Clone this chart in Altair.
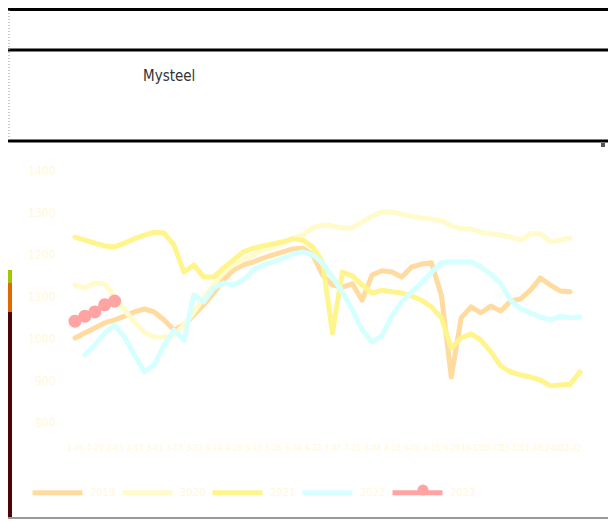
import altair as alt
import pandas as pd

weeks = ["01-06", "01-13", "01-20", "01-27", "02-03", "02-10", "02-17", "02-24",
         "03-03", "03-10", "03-17", "03-24", "03-31", "04-07", "04-14", "04-21",
         "04-28", "05-05", "05-12", "05-19", "05-26", "06-02", "06-09", "06-16",
         "06-23", "06-30", "07-07", "07-14", "07-21", "07-28", "08-04", "08-11",
         "08-18", "08-25", "09-01", "09-08", "09-15", "09-22", "09-29", "10-06",
         "10-13", "10-20", "10-27", "11-03", "11-10", "11-17", "11-24", "12-01",
         "12-08", "12-15", "12-22", "12-29"]

years = ["2019", "2020", "2021", "2022", "2023"]

s2019 = [1000, 1012, 1024, 1036, 1043, 1052, 1062, 1069, 1062, 1043,
         1019, 1031, 1055, 1079, 1107, 1138, 1162, 1174, 1181, 1190,
         1198, 1205, 1212, 1214, 1198, 1150, 1126, 1121, 1129, 1090,
         1150, 1160, 1157, 1145, 1169, 1176, 1179, 1102, 907, 1048,
         1074, 1060, 1076, 1064, 1088, 1093, 1114, 1143, 1126, 1112,
         1110, None]
s2020 = [1126, 1119, 1131, 1129, 1098, 1067, 1038, 1014, 1002, 1002,
         1007, 1031, 1062, 1095, 1126, 1157, 1174, 1186, 1198, 1210,
         1217, 1226, 1238, 1245, 1262, 1269, 1267, 1262, 1262, 1276,
         1290, 1300, 1300, 1295, 1290, 1286, 1283, 1279, 1267, 1260,
         1260, 1252, 1248, 1245, 1240, 1233, 1248, 1248, 1229, 1233,
         1238, None]
s2021 = [1240, 1233, 1226, 1219, 1217, 1226, 1236, 1245, 1252, 1250,
         1221, 1157, 1174, 1145, 1145, 1167, 1186, 1205, 1214, 1219,
         1224, 1229, 1236, 1233, 1217, 1181, 1012, 1157, 1148, 1126,
         1107, 1114, 1110, 1107, 1100, 1090, 1074, 1048, 976, 1000,
         1010, 995, 967, 933, 919, 912, 907, 900, 886, 888,
         890, 919]
s2022 = [None, 960, 983, 1012, 1031, 1002, 960, 919, 936, 983,
         1019, 995, 1102, 1086, 1119, 1131, 1126, 1138, 1162, 1174,
         1181, 1190, 1200, 1205, 1198, 1179, 1145, 1110, 1067, 1019,
         990, 1005, 1052, 1086, 1110, 1131, 1157, 1179, 1181, 1181,
         1181, 1169, 1152, 1129, 1090, 1069, 1060, 1050, 1043, 1052,
         1048, 1050]
s2023 = [1040, 1052, 1062, 1079, 1088]

series = [s2019, s2020, s2021, s2022, s2023]
colors = ["#FFDBA0", "#FFFBCB", "#FFF58C", "#D6FFFF", "#FFA3A3"]
y_ticks = [800, 900, 1000, 1100, 1200, 1300, 1400]

rows = []
for yr, vals in zip(years, series):
    for w, v in zip(weeks, vals):
        if v is not None:
            rows.append({"week": w, "year": yr, "value": v})
df = pd.DataFrame(rows)

faint = "#FFF8DA"

x_enc = alt.X("week:O", sort=weeks, title=None,
              scale=alt.Scale(type="point", padding=0),
              axis=alt.Axis(values=weeks[::2], labelAngle=0, labelFontSize=8,
                            labelFont="DejaVu Sans Condensed", labelColor=faint,
                            labelExpr="replace(datum.label, /^0/, '')",
                            labelPadding=22, domain=False, ticks=False, grid=False,
                            labelOverlap=False))
y_enc = alt.Y("value:Q", title=None,
              scale=alt.Scale(domain=[800, 1400], nice=False, zero=False),
              axis=alt.Axis(values=y_ticks, format="d", labelFontSize=12,
                            labelFont="DejaVu Sans Condensed", labelColor=faint,
                            labelPadding=20, domain=False, ticks=False, grid=False))

lines = alt.Chart(df).mark_line(strokeWidth=5, strokeJoin="round", strokeCap="round").encode(
    x=x_enc, y=y_enc,
    color=alt.Color("year:N", sort=years,
                    scale=alt.Scale(domain=years, range=colors),
                    legend=alt.Legend(title=None, orient="none", legendX=-45, legendY=295,
                                      direction="horizontal", columns=5,
                                      symbolType="stroke", symbolSize=2500,
                                      symbolStrokeWidth=5, labelFontSize=11,
                                      labelFont="DejaVu Sans Condensed",
                                      labelColor=faint, labelOffset=5,
                                      columnPadding=-4)),
)

pts = alt.Chart(df[df["year"] == "2023"]).mark_circle(size=170, opacity=1).encode(
    x=alt.X("week:O", sort=weeks), y="value:Q", color=alt.value("#FFA3A3")
)

one = alt.Data(values=[{"k": 1}])

def hrule(y, color="#000000", w=3):
    return alt.Chart(one).mark_rule(color=color, strokeWidth=w).encode(
        x=alt.value(-67), x2=alt.value(541), y=alt.value(y))

decor = [
    hrule(-160.5),
    hrule(-120),
    hrule(-29),
    hrule(348, "#9a9a9a", 2),
    alt.Chart(one).mark_rule(color="#9a9a9a", strokeWidth=1, strokeDash=[1, 2]).encode(
        x=alt.value(-66), y=alt.value(-160), y2=alt.value(-25)),
    alt.Chart(one).mark_text(text="Mysteel", font="DejaVu Sans Condensed", fontSize=15,
                             color="#333333", align="left", baseline="middle").encode(
        x=alt.value(68), y=alt.value(-94)),
    alt.Chart(one).mark_rect(color="#A8C400").encode(
        x=alt.value(-67), x2=alt.value(-63), y=alt.value(100), y2=alt.value(113)),
    alt.Chart(one).mark_rect(color="#E06800").encode(
        x=alt.value(-67), x2=alt.value(-63), y=alt.value(113), y2=alt.value(142)),
    alt.Chart(one).mark_rect(color="#4C0404").encode(
        x=alt.value(-67), x2=alt.value(-63), y=alt.value(142), y2=alt.value(347)),
    alt.Chart(one).mark_rect(color="#555555").encode(
        x=alt.value(526), x2=alt.value(530), y=alt.value(-27), y2=alt.value(-23)),
    alt.Chart(one).mark_circle(size=120, opacity=1, color="#FFA3A3").encode(
        x=alt.value(348), y=alt.value(320)),
]

chart = alt.layer(lines, pts, *decor).properties(
    width=505, height=252,
    padding={"left": 67, "top": 162, "right": 28, "bottom": 99},
    autosize=alt.AutoSizeParams(type="none"),
    background="white",
).configure_view(stroke=None)

chart.save("out.html", embed_options={"renderer": "svg", "actions": False})
